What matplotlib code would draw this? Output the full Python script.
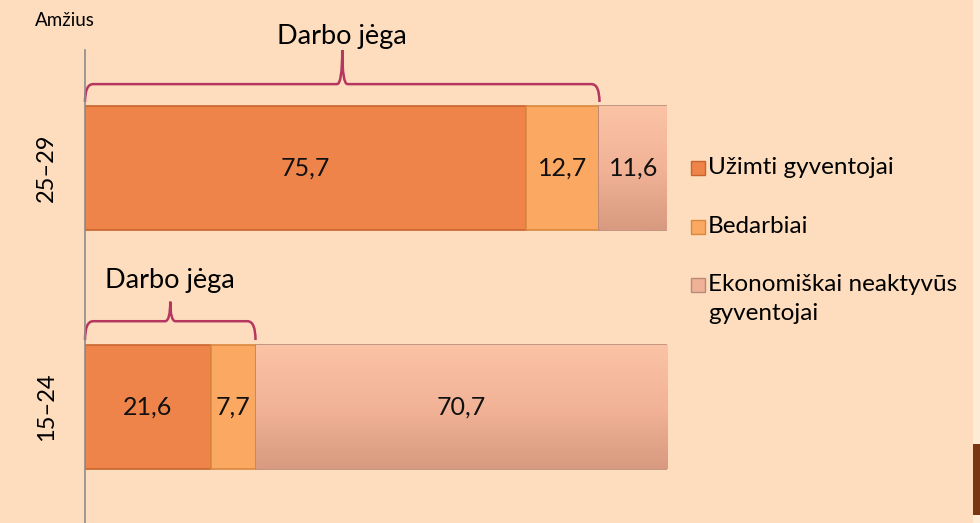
import matplotlib
matplotlib.use("Agg")
import numpy as np
import matplotlib.pyplot as plt
from matplotlib.patches import Rectangle
from matplotlib.path import Path
from matplotlib.patches import PathPatch
from matplotlib.colors import LinearSegmentedColormap

plt.rcParams['font.family'] = ['Lato', 'DejaVu Sans']

# duomenys
amzius = ['15–24', '25–29']
uzimti = [21.6, 75.7]
bedarbiai = [7.7, 12.7]
neaktyvus = [70.7, 11.6]
serijos = ['Užimti gyventojai', 'Bedarbiai', 'Ekonomiškai neaktyvūs\ngyventojai']
spalvos = ['#EE8449', '#FBA862', '#EFB297']
krastai = ['#C8652E', '#D9883F', '#B98A78']

bg = '#FDDDBE'
fig = plt.figure(figsize=(9.8, 5.23), dpi=100)
fig.patch.set_facecolor(bg)
W, H = 980, 523

ax = fig.add_axes([85 / W, 0, 582 / W, (523 - 50) / H])
ax.set_facecolor('none')

grad = LinearSegmentedColormap.from_list('g', ['#D89A80', '#F2B397', '#FBC3A5'])
y = [0, 1]
kairė = [0, 0]
for i, (vals, c, e) in enumerate(zip([uzimti, bedarbiai, neaktyvus], spalvos, krastai)):
    bars = ax.barh(y, vals, left=kairė, height=0.52, color=c, edgecolor=e, linewidth=1.2, zorder=2)
    for b, v in zip(bars, vals):
        if i == 2:
            im = ax.imshow(np.linspace(0, 1, 100).reshape(-1, 1), cmap=grad, aspect='auto',
                           origin='lower', zorder=2.5,
                           extent=[b.get_x(), b.get_x() + b.get_width(), b.get_y(), b.get_y() + b.get_height()])
            im.set_clip_path(b)
        ax.text(b.get_x() + b.get_width() / 2, b.get_y() + b.get_height() / 2,
                f'{v:.1f}'.replace('.', ','), ha='center', va='center', fontsize=18,
                color='#111111', zorder=4)
    kairė = [k + v for k, v in zip(kairė, vals)]
ax.set_xlim(0, 100)
ax.set_ylim(-0.488, 1.495)

for s in ['top', 'right', 'bottom']:
    ax.spines[s].set_visible(False)
ax.spines['left'].set_color('#8C8C8C')
ax.spines['left'].set_linewidth(1.2)
ax.set_xticks([])
ax.set_yticks(y)
ax.set_yticklabels(amzius, rotation=90, va='center', fontsize=17)
ax.tick_params(axis='y', length=0, pad=20)


def skliaustas(x0, x1, y_gal, y_lin, y_virs):
    xm = (x0 + x1) / 2
    dx = 1.4
    dxm = 0.9
    verts = [(x0, y_gal), (x0, y_lin), (x0 + dx, y_lin),
             (xm - dxm, y_lin), (xm, y_lin), (xm, y_virs),
             (xm, y_lin), (xm + dxm, y_lin),
             (x1 - dx, y_lin), (x1, y_lin), (x1, y_gal)]
    codes = [Path.MOVETO, Path.CURVE3, Path.CURVE3,
             Path.LINETO, Path.CURVE3, Path.CURVE3,
             Path.CURVE3, Path.CURVE3,
             Path.LINETO, Path.CURVE3, Path.CURVE3]
    ax.add_patch(PathPatch(Path(verts, codes), fill=False, edgecolor='#B5365E',
                           linewidth=1.8, clip_on=False))


skliaustas(0, uzimti[1] + bedarbiai[1], 1.277, 1.352, 1.495)
ax.text((uzimti[1] + bedarbiai[1]) / 2, 1.552, 'Darbo jėga', ha='center', va='center',
        fontsize=19.5, clip_on=False)
skliaustas(0, uzimti[0] + bedarbiai[0], 0.279, 0.358, 0.44)
ax.text((uzimti[0] + bedarbiai[0]) / 2, 0.528, 'Darbo jėga', ha='center', va='center',
        fontsize=19.5, clip_on=False)

fig.text(65 / W, 1 - 20 / H, 'Amžius', ha='center', va='center', fontsize=13.5)

# legenda
leg_y = [168, 227, 285]
for yy, lab, c, e in zip(leg_y, serijos, spalvos, krastai):
    fig.patches.append(Rectangle((691 / W, 1 - (yy + 7) / H), 14 / W, 14 / H,
                                 transform=fig.transFigure, facecolor=c, edgecolor=e, linewidth=1))
    if '\n' in lab:
        fig.text(708 / W, 1 - (yy - 11) / H, lab, ha='left', va='top', fontsize=17.5,
                 linespacing=1.45)
    else:
        fig.text(708 / W, 1 - yy / H, lab, ha='left', va='center', fontsize=17.5)

# dešinė juosta
fig.patches.append(Rectangle((973 / W, 0), 7 / W, 1, transform=fig.transFigure,
                             facecolor='#FDEBD6', edgecolor='none'))
fig.patches.append(Rectangle((973 / W, 1 - 515 / H), 7 / W, 71 / H, transform=fig.transFigure,
                             facecolor='#7A3513', edgecolor='none'))

fig.savefig('out.png', dpi=100, facecolor=bg)
